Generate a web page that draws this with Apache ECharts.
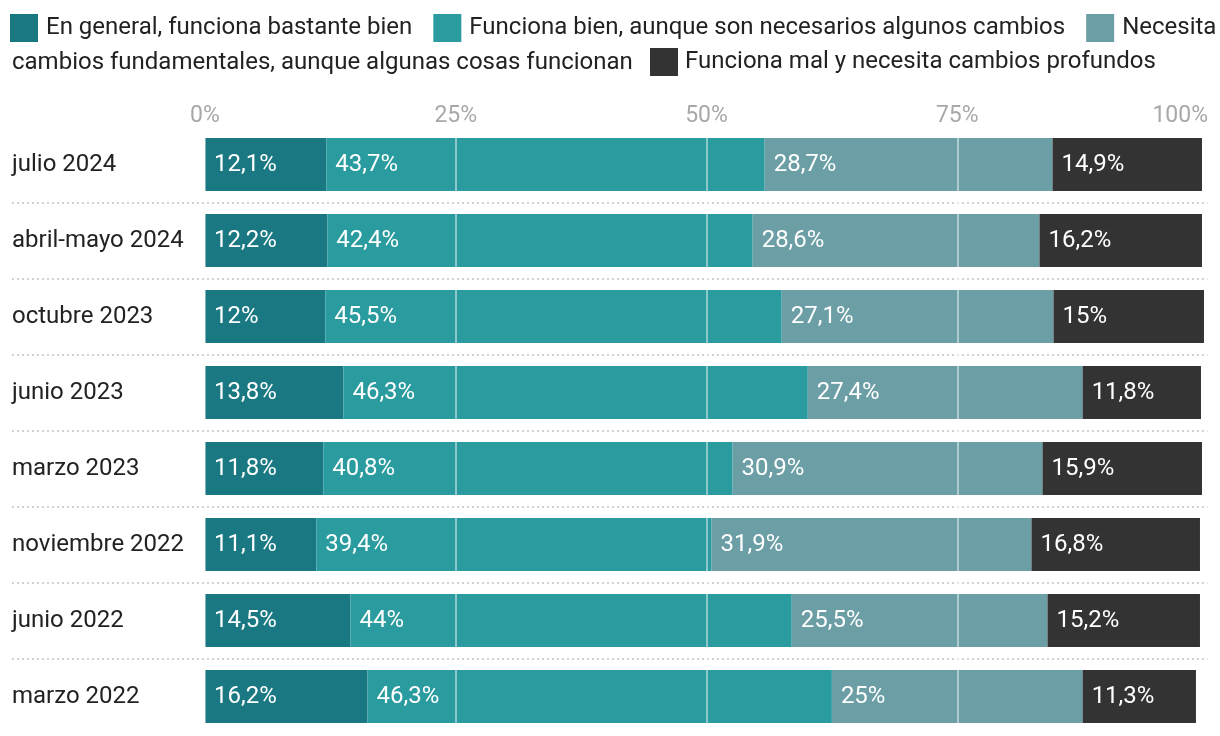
<!DOCTYPE html>
<html>
<head>
<meta charset="utf-8">
<script src="https://cdn.jsdelivr.net/npm/echarts@6/dist/echarts.min.js"></script>
<style>
html,body{margin:0;padding:0;background:#fff;}
#chart{width:1220px;height:736px;}
</style>
</head>
<body>
<div id="chart"></div>
<script>
const categories = ['julio 2024','abril-mayo 2024','octubre 2023','junio 2023','marzo 2023','noviembre 2022','junio 2022','marzo 2022'];
const seriesNames = [
  'En general, funciona bastante bien',
  'Funciona bien, aunque son necesarios algunos cambios',
  'Necesita cambios fundamentales, aunque algunas cosas funcionan',
  'Funciona mal y necesita cambios profundos'
];
const bastanteBien = [12.1, 12.2, 12, 13.8, 11.8, 11.1, 14.5, 16.2];
const algunosCambios = [43.7, 42.4, 45.5, 46.3, 40.8, 39.4, 44, 46.3];
const cambiosFundamentales = [28.7, 28.6, 27.1, 27.4, 30.9, 31.9, 25.5, 25];
const cambiosProfundos = [14.9, 16.2, 15, 11.8, 15.9, 16.8, 15.2, 11.3];
const tickValues = [0, 25, 50, 75, 100];
const colors = ['#1a7883', '#2a9b9e', '#6b9ea5', '#333333'];

const allValues = [bastanteBien, algunosCambios, cambiosFundamentales, cambiosProfundos];
const FONT = 'Roboto';
const FS = 24;
const fmt = v => String(v).replace('.', ',') + '%';

// split third legend label like the original inline wrap
const firstWord = seriesNames[2].split(' ')[0];
const restWords = seriesNames[2].slice(firstWord.length + 1);

const chart = echarts.init(document.getElementById('chart'));
const option = {
  backgroundColor: '#fff',
  animation: false,
  color: colors,
  textStyle: { fontFamily: FONT },
  legend: [
    {
      data: seriesNames.slice(0, 3),
      left: 10, top: 14, padding: 0,
      itemWidth: 28, itemHeight: 28, itemGap: 21,
      icon: 'rect',
      formatter: n => n === seriesNames[2] ? firstWord : n,
      textStyle: { fontSize: FS, color: '#222', fontFamily: FONT, padding: [2, 0, 0, 3] }
    },
    {
      data: [seriesNames[3]],
      left: 650, top: 48, padding: 0,
      itemWidth: 28, itemHeight: 28,
      icon: 'rect',
      textStyle: { fontSize: FS, color: '#222', fontFamily: FONT, padding: [3, 0, 0, 2] }
    }
  ],
  graphic: [{
    type: 'text', left: 12, top: 51,
    style: { text: restWords, fontSize: FS, fill: '#222', fontFamily: FONT }
  }],
  grid: [
    { left: 205, right: 12, top: 126.5, bottom: 1.5 },
    { left: 12, right: 12, top: 126.5, bottom: 1.5 }
  ],
  xAxis: [
    {
      gridIndex: 0, type: 'value', position: 'top', min: 0, max: 100, interval: 25,
      z: 5,
      axisLine: { show: false }, axisTick: { show: false },
      axisLabel: { formatter: v => tickValues.includes(v) ? v + '%' : '', color: '#a8a8a8', fontSize: 23, margin: -1, fontFamily: FONT, alignMaxLabel: 'right' },
      splitLine: { show: true, lineStyle: { color: 'rgba(255,255,255,0.45)', width: 2 } }
    },
    {
      gridIndex: 1, type: 'value', show: false
    }
  ],
  yAxis: [
    {
      gridIndex: 0, type: 'category', data: categories, inverse: true,
      axisLine: { show: false }, axisTick: { show: false },
      axisLabel: { align: 'left', margin: 193, color: '#222', fontSize: FS, fontFamily: FONT, padding: [5, 0, 0, 0] },
      splitLine: { show: false }
    },
    {
      gridIndex: 1, type: 'category', data: categories, inverse: true,
      axisLine: { show: false }, axisTick: { show: false }, axisLabel: { show: false },
      splitLine: { show: true, showMinLine: false, showMaxLine: false, lineStyle: { color: '#d2d2d2', width: 2, type: [2, 3] } }
    }
  ],
  series: seriesNames.map((name, i) => ({
    name, type: 'bar', stack: 'total', xAxisIndex: 0, yAxisIndex: 0,
    barWidth: 53,
    data: allValues[i],
    itemStyle: { color: colors[i] },
    label: {
      show: true, position: 'insideLeft', distance: 9,
      formatter: p => fmt(p.value),
      color: '#fff', fontSize: FS, fontFamily: FONT, padding: [4, 0, 0, 0]
    }
  }))
};
chart.setOption(option);
</script>
</body>
</html>
